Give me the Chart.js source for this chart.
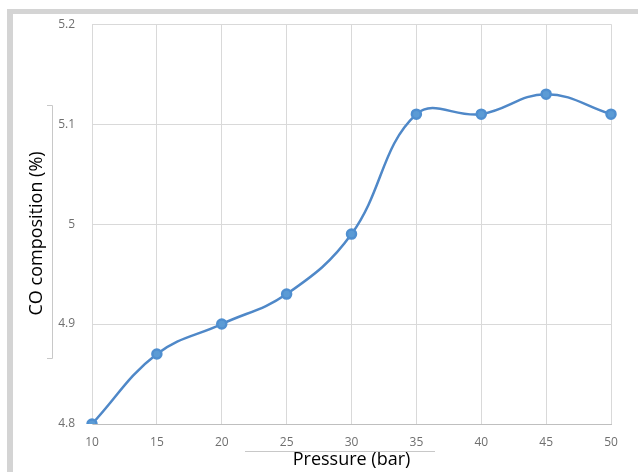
<!DOCTYPE html>
<html>
<head>
<meta charset="utf-8">
<script src="https://cdn.jsdelivr.net/npm/chart.js@4/dist/chart.umd.min.js"></script>
<style>
  html, body { margin: 0; padding: 0; background: #fff; }
  #wrap { position: relative; width: 638px; height: 472px; overflow: hidden; }
  #frame { position: absolute; left: 7px; top: 9px; width: 640px; height: 470px;
           border-left: 6px solid #d4d4d4; border-top: 5px solid #d4d4d4; }
  #myChart { position: absolute; left: 0; top: 0; }
</style>
</head>
<body>
<div id="wrap">
  <div id="frame"></div>
  <canvas id="myChart" width="638" height="472"></canvas>
</div>
<script>
const pressures = ["10", "15", "20", "25", "30", "35", "40", "45", "50"];
const coValues = [4.80, 4.87, 4.90, 4.93, 4.99, 5.11, 5.11, 5.13, 5.11];
const yTicks = [4.8, 4.9, 5, 5.1, 5.2];

// thin light boxes left over round the axis titles
const titleBoxes = {
  id: "titleBoxes",
  afterDraw(chart) {
    const c = chart.ctx;
    c.save();
    c.strokeStyle = "#c8c8c8";
    c.lineWidth = 1;
    c.beginPath();
    c.moveTo(47, 105.5); c.lineTo(52.5, 105.5); c.lineTo(52.5, 358.5); c.lineTo(47, 358.5);
    c.moveTo(245, 451.5); c.lineTo(435, 451.5);
    c.stroke();
    c.restore();
  }
};

new Chart("myChart", {
  type: "line",
  data: {
    labels: pressures,
    datasets: [{
      data: coValues,
      borderColor: "#4f88c8",
      backgroundColor: "#5b9bd5",
      pointBackgroundColor: "#5b9bd5",
      pointBorderColor: "#4f8fd0",
      pointRadius: 4.5,
      borderWidth: 2.5,
      tension: 0.4,
      fill: false
    }]
  },
  options: {
    responsive: false,
    animation: false,
    devicePixelRatio: 1,
    layout: { padding: { top: 24, right: 27, left: 0, bottom: 0 } },
    plugins: { legend: { display: false }, tooltip: { enabled: false } },
    scales: {
      x: {
        afterFit(scale) { scale.height = 48; },
        grid: { color: "#d9d9d9", drawTicks: false },
        border: { color: "#bfbfbf" },
        ticks: { color: "#6f6f6f", padding: 11, font: { family: "Open Sans", size: 12 } },
        title: {
          display: true, text: "Pressure (bar)", color: "#000",
          font: { family: "Open Sans", size: 18 }, padding: { top: 0, bottom: 1 }
        }
      },
      y: {
        min: 4.8, max: 5.2,
        afterFit(scale) { scale.width = 92; },
        afterBuildTicks(scale) { scale.ticks = yTicks.map(v => ({ value: v })); },
        grid: { color: "#d9d9d9", drawTicks: false },
        border: { color: "#d9d9d9" },
        ticks: {
          color: "#6f6f6f", padding: 17, font: { family: "Open Sans", size: 12 },
          callback: v => String(Math.round(v * 10) / 10)
        },
        title: {
          display: true, text: "CO composition (%)    ", color: "#000",
          font: { family: "Open Sans", size: 18 }, padding: { top: 26, bottom: 0 }
        }
      }
    }
  },
  plugins: [titleBoxes]
});
</script>
</body>
</html>
